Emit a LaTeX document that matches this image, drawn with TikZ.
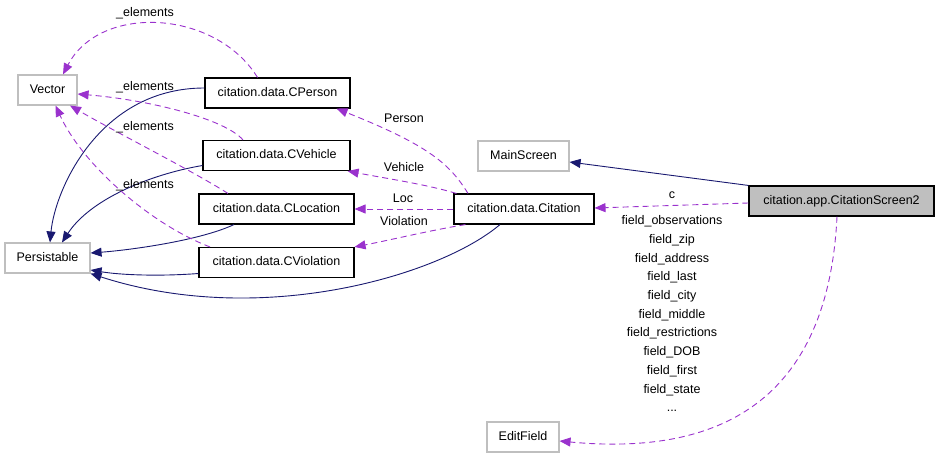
\documentclass[tikz,border=0pt]{standalone}
\usepackage{fontspec}
\setmainfont{Liberation Sans}
\usepackage{tikz}
\usetikzlibrary{arrows.meta}
\definecolor{inhblue}{RGB}{25,25,112}
\definecolor{usepurple}{RGB}{154,50,205}
\definecolor{extgray}{RGB}{191,191,191}
\definecolor{curgray}{RGB}{191,191,191}
\newcommand{\lblfont}{\fontsize{12.5}{15}\selectfont}
\tikzset{
  cls/.style={draw=black,fill=white,line width=1.1pt,font=\lblfont,inner xsep=4pt,minimum height=30pt,text height=9pt,text depth=2.5pt},
  ext/.style={cls,draw=extgray},
  cur/.style={cls,fill=curgray},
  inh/.style={draw=inhblue,line width=0.9pt,-{Triangle[length=11pt,width=9pt]}},
  usg/.style={draw=usepurple,line width=0.9pt,dash pattern=on 6pt off 4pt,-{Triangle[length=11pt,width=9pt]}},
  elab/.style={font=\lblfont,inner sep=0pt,text height=9pt,text depth=2.5pt},
  flab/.style={font=\fontsize{12.5}{18.7}\selectfont,inner sep=0pt,align=center}
}
\begin{document}
\begin{tikzpicture}[x=1pt,y=-1pt]
  \useasboundingbox (0,0) rectangle (939,457);
  % classes
  \node[ext,minimum width=59pt] (vector) at (47.5,90) {Vector};
  \node[ext,minimum width=85pt] (persistable) at (47.5,258) {Persistable};
  \node[cls,minimum width=145pt] (cperson) at (277.5,93) {citation.data.CPerson};
  \node[cls,minimum width=147pt] (cvehicle) at (276.5,155.5) {citation.data.CVehicle};
  \node[cls,minimum width=155pt] (clocation) at (276.5,209) {citation.data.CLocation};
  \node[cls,minimum width=155pt] (cviolation) at (276.5,262.5) {citation.data.CViolation};
  \node[cls,minimum width=140pt] (citation) at (524,209) {citation.data.Citation};
  \node[ext,minimum width=91pt] (mainscreen) at (523.5,156) {MainScreen};
  \node[cur,minimum width=185pt] (screen) at (841.5,201) {citation.app.CitationScreen2};
  \node[ext,minimum width=72pt] (editfield) at (523,437) {EditField};
  % inheritance
  \draw[inh] ([yshift=5pt]cperson.west) .. controls +(-105,0) and +(5,-53) .. ([xshift=2.5pt]persistable.north);
  \draw[inh] ([yshift=-10pt]cvehicle.west) .. controls +(-53,9) and +(28,-43) .. ([xshift=14.5pt]persistable.north);
  \draw[inh] ([xshift=-42.5pt]clocation.south) .. controls +(-34,16) and +(40,-3) .. ([yshift=5pt]persistable.east);
  \draw[inh] ([yshift=-11pt]cviolation.west) .. controls +(-39,3) and +(30,5) .. ([yshift=-12pt]persistable.east);
  \draw[inh] ([xshift=-24pt]citation.south) .. controls +(-60,51) and +(170,55) .. (persistable.south east);
  \draw[inh] (screen.north west) -- ([yshift=-6pt]mainscreen.east);
  % usage
  \draw[usg] ([xshift=-20pt]cperson.north) .. controls +(-42,-68) and +(37,-71) .. ([xshift=15.5pt]vector.north);
  \draw[usg] ([xshift=-33.5pt]cvehicle.north) .. controls +(-18,-21) and +(72,6) .. ([yshift=-4pt]vector.east);
  \draw[usg] ([xshift=-48.5pt]clocation.north) .. controls +(-38,-24) and +(50,29) .. ([xshift=22.5pt]vector.south);
  \draw[usg] ([xshift=-66.5pt]cviolation.north) .. controls +(-60,-23) and +(27,59) .. ([xshift=8pt]vector.south);
  \draw[usg] ([xshift=-56pt]citation.north) .. controls +(-18,-29) and +(93,37) .. ([xshift=59pt]cperson.south);
  \draw[usg] ([xshift=3pt]citation.north west) .. controls +(-30,-9) and +(42,8) .. ([xshift=-3pt]cvehicle.south east);
  \draw[usg] (citation.west) -- (clocation.east);
  \draw[usg] ([xshift=12pt]citation.south west) .. controls +(-36,6) and +(36,-7) .. (cviolation.north east);
  \draw[usg] ([yshift=-2pt]screen.west) -- ([yshift=1pt]citation.east);
  \draw[usg] ([xshift=-4.5pt]screen.south) .. controls +(-7,144) and +(201,19) .. ([yshift=-4pt]editfield.east);
  % edge labels
  \node[elab] (elem1) at (145,13) {\_elements};
  \node[elab] (elem2) at (145,87) {\_elements};
  \node[elab] (elem3) at (145,127) {\_elements};
  \node[elab] (elem4) at (145,185) {\_elements};
  \node[elab] (lperson) at (404,119) {Person};
  \node[elab] (lvehicle) at (404,168) {Vehicle};
  \node[elab] (lloc) at (403,199) {Loc};
  \node[elab] (lviolation) at (404,222) {Violation};
  \node[elab] (lc) at (672,195) {c};
  \node[flab,anchor=north] (lfields) at (672,215.5) {field\_observations\\field\_zip\\field\_address\\field\_last\\field\_city\\field\_middle\\field\_restrictions\\field\_DOB\\field\_first\\field\_state\\...};
\end{tikzpicture}
\end{document}
